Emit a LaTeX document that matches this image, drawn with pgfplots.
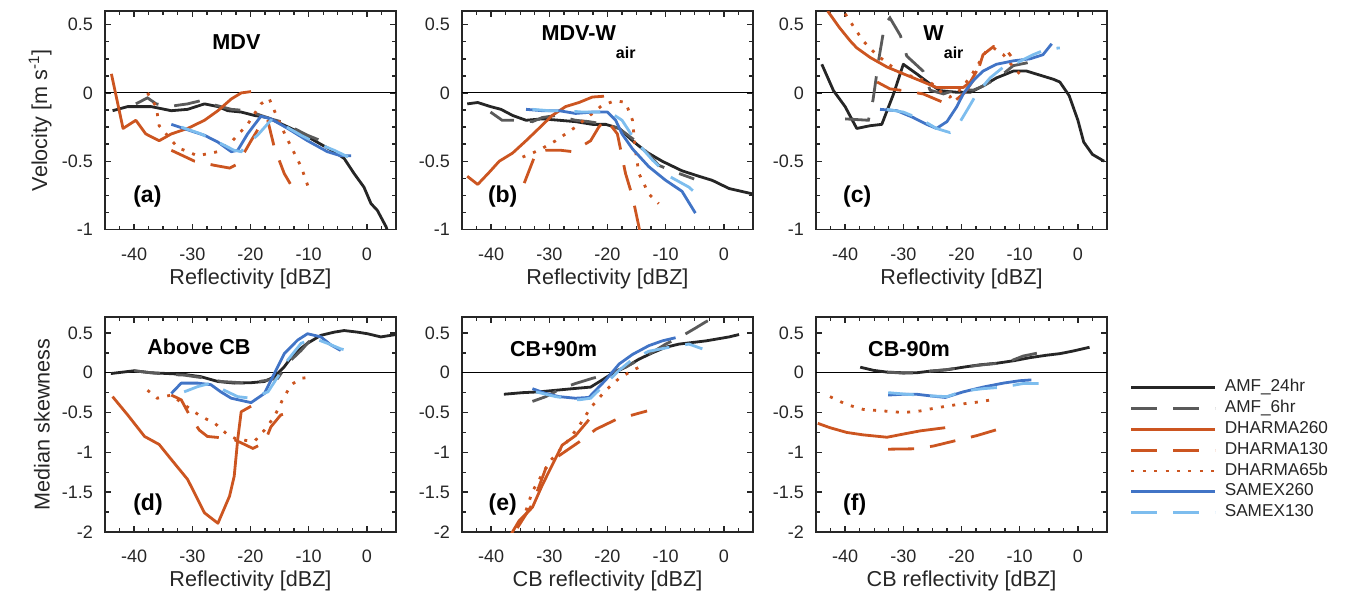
\documentclass[border=0pt]{standalone}
\usepackage{fontspec}
\setmainfont{Liberation Sans}
\usepackage{pgfplots}
\pgfplotsset{compat=1.18}

\definecolor{axcol}{HTML}{262626}
\definecolor{amfgray}{HTML}{5A5A5A}
\definecolor{dharma}{HTML}{CC5520}
\definecolor{samex}{HTML}{4174C6}
\definecolor{samexl}{HTML}{7DBDEE}

\newcommand{\air}{\raisebox{-9pt}{\fontsize{8}{8}\selectfont air}}

\tikzset{
  ttl/.style={font=\bfseries\fontsize{10.8}{12}\selectfont, text=black, anchor=west, inner sep=0pt},
  plab/.style={font=\bfseries\fontsize{11.5}{12}\selectfont, text=black, anchor=west, inner sep=0pt},
}

\pgfplotsset{
  amf24/.style={axcol, line width=1.4pt, line join=round},
  amf6/.style={amfgray, line width=1.4pt, dash pattern=on 13pt off 8pt},
  dh260/.style={dharma, line width=1.4pt, line join=round},
  dh130/.style={dharma, line width=1.4pt, dash pattern=on 13pt off 8pt},
  dh65/.style={dharma, line width=1.4pt, dash pattern=on 1.5pt off 4.2pt},
  sx260/.style={samex, line width=1.4pt, line join=round},
  sx130/.style={samexl, line width=1.4pt, dash pattern=on 13pt off 8pt},
  zeroline/.style={black, line width=0.5pt, forget plot},
  panel/.style={
    scale only axis, width=145.5pt, anchor=south west,
    xmin=-45, xmax=5, xtick={-40,-30,-20,-10,0},
    minor xtick={-45,-42.5,...,5},
    axis line style={line width=0.9pt, axcol},
    tick style={line width=0.7pt, axcol},
    major tick length=3pt, minor tick length=2pt,
    tick label style={font=\fontsize{9}{10}\selectfont, text=axcol},
    xticklabel style={yshift=-5.5pt},
    yticklabel style={xshift=-2.5pt},
    /pgf/number format/assume math mode=true,
    label style={font=\fontsize{10.8}{12}\selectfont, text=axcol},
    xlabel={Reflectivity [dBZ]},
  },
  toprow/.style={panel, height=109.25pt, ymin=-1, ymax=0.6,
    ytick={-1,-0.5,0,0.5}, minor ytick={-1,-0.875,...,0.6},
    xlabel style={at={(axis description cs:0.5,-0.225)}, anchor=center}},
  botrow/.style={panel, height=107.5pt, ymin=-2, ymax=0.7,
    ytick={-2,-1.5,-1,-0.5,0,0.5}, minor ytick={-2,-1.75,...,0.7},
    xlabel style={at={(axis description cs:0.5,-0.228)}, anchor=center}},
}

\begin{document}
\begin{tikzpicture}
\path[use as bounding box] (0pt,0pt) rectangle (676.5pt,-303pt);

% (a) MDV
\begin{axis}[toprow, at={(52.5pt,-114.75pt)},
  ylabel={Velocity [m s\textsuperscript{-1}]},
  ylabel style={at={(axis description cs:-0.223,0.5)}, anchor=center}]
\addplot[zeroline] coordinates {(-45,0) (5,0)};
\addplot[amf24] coordinates {(-43.7,-0.13)(-41.1,-0.10)(-37.1,-0.10)(-33.6,-0.13)(-30.8,-0.12)(-27.9,-0.08)(-25.6,-0.10)(-23.9,-0.13)(-21.6,-0.14)(-19.3,-0.165)(-17.1,-0.18)(-14.8,-0.225)(-12.5,-0.27)(-10.2,-0.32)(-7.9,-0.376)(-5.6,-0.43)(-3.9,-0.48)(-2.2,-0.59)(-0.5,-0.69)(0.7,-0.81)(1.8,-0.86)(3.3,-0.98)(3.6,-1.02)};
\addplot[amf6] coordinates {(-39.7,-0.08)(-37.7,-0.036)(-36.2,-0.08)(-34,-0.1)(-32.5,-0.09)(-30.8,-0.08)(-28.5,-0.056)(-26,-0.09)(-23.3,-0.12)(-20.5,-0.13)(-18.5,-0.16)(-16.5,-0.19)(-14.8,-0.21)(-12.5,-0.26)(-10.2,-0.31)(-7.3,-0.36)};
\addplot[dh260] coordinates {(-43.9,0.14)(-41.9,-0.26)(-39.7,-0.20)(-38.0,-0.30)(-35.7,-0.35)(-33.6,-0.30)(-30.8,-0.26)(-27.9,-0.20)(-25.6,-0.13)(-23.3,-0.044)(-21.6,0)(-19.9,0.01)};
\addplot[dh130] coordinates {(-33.6,-0.42)(-29.6,-0.50)(-26.2,-0.53)(-23.6,-0.55)(-22.2,-0.52)(-19.9,-0.35)(-18.2,-0.23)(-17.1,-0.19)(-15.9,-0.40)(-14.2,-0.59)(-12.0,-0.75)};
\addplot[dh65] coordinates {(-37.7,0)(-36.2,-0.10)(-35.7,-0.24)(-32.5,-0.40)(-29.1,-0.46)(-25.6,-0.43)(-23.1,-0.35)(-20.5,-0.23)(-18.2,-0.08)(-16.8,-0.04)(-15.9,-0.13)(-13.9,-0.32)(-11.3,-0.54)(-9.9,-0.71)};
\addplot[sx260] coordinates {(-33.6,-0.23)(-30.8,-0.27)(-27.9,-0.31)(-25.6,-0.36)(-23.3,-0.43)(-22.2,-0.42)(-20.5,-0.30)(-18.2,-0.17)(-16.5,-0.19)(-13.6,-0.26)(-10.2,-0.35)(-6.8,-0.43)(-4.5,-0.46)(-2.7,-0.46)};
\addplot[sx130] coordinates {(-31.9,-0.25)(-28.5,-0.30)(-25.6,-0.36)(-22.8,-0.42)(-21.6,-0.43)(-20.5,-0.37)(-18.8,-0.31)(-16.5,-0.20)(-14.8,-0.225)(-11.3,-0.31)(-8.5,-0.37)(-5.6,-0.42)(-2.2,-0.49)};
\node[ttl] at (axis cs:-26.6,0.37) {MDV};
\node[plab] at (axis cs:-40.2,-0.76) {(a)};
\end{axis}

% (b) MDV-Wair
\begin{axis}[toprow, at={(231pt,-114.75pt)}]
\addplot[zeroline] coordinates {(-45,0) (5,0)};
\addplot[amf24] coordinates {(-44.1,-0.08)(-42.3,-0.07)(-40.1,-0.10)(-38.3,-0.12)(-36.3,-0.165)(-34.0,-0.20)(-31.2,-0.19)(-28.3,-0.20)(-25.5,-0.21)(-22.6,-0.23)(-20.3,-0.23)(-18.0,-0.26)(-15.7,-0.35)(-13.4,-0.43)(-10.6,-0.50)(-7.2,-0.57)(-4.3,-0.61)(-2.0,-0.64)(0.9,-0.70)(5,-0.74)};
\addplot[amf6] coordinates {(-40.1,-0.14)(-38.1,-0.20)(-36.3,-0.20)(-32.9,-0.21)(-31.2,-0.18)(-28.9,-0.165)(-25.5,-0.20)(-23.2,-0.21)(-20.3,-0.23)(-18,-0.26)(-14.6,-0.37)(-11.2,-0.53)(-7.7,-0.59)(-5.1,-0.63)};
\addplot[dh260] coordinates {(-44.1,-0.61)(-42.3,-0.67)(-40.3,-0.58)(-38.6,-0.50)(-36.3,-0.44)(-34.0,-0.35)(-31.8,-0.26)(-29.5,-0.165)(-27.2,-0.10)(-24.9,-0.07)(-22.6,-0.03)(-20.6,-0.024)};
\addplot[dh130] coordinates {(-34.3,-0.66)(-32.3,-0.44)(-30.6,-0.42)(-28,-0.42)(-26,-0.43)(-22.9,-0.35)(-21.5,-0.25)(-20.3,-0.19)(-18.3,-0.30)(-16.9,-0.59)(-15.7,-0.76)(-14.6,-0.98)(-14.3,-1.05)};
\addplot[dh65] coordinates {(-34.6,-0.47)(-31.8,-0.42)(-28.9,-0.35)(-25.5,-0.25)(-22.6,-0.15)(-20.9,-0.09)(-18.6,-0.056)(-16.9,-0.07)(-15.7,-0.20)(-15.2,-0.42)(-14.6,-0.59)(-12.9,-0.74)(-11.2,-0.81)};
\addplot[sx260] coordinates {(-34.0,-0.12)(-31.2,-0.13)(-28.3,-0.13)(-25.5,-0.15)(-22.6,-0.14)(-20.0,-0.14)(-18.6,-0.20)(-17.5,-0.30)(-15.7,-0.41)(-12.9,-0.54)(-10.0,-0.64)(-7.2,-0.72)(-4.9,-0.88)};
\addplot[sx130] coordinates {(-32.9,-0.12)(-30.0,-0.13)(-27.2,-0.13)(-24.3,-0.14)(-21.5,-0.14)(-20.0,-0.13)(-17.5,-0.20)(-15.2,-0.35)(-12.3,-0.49)(-9.4,-0.61)(-6.0,-0.69)(-3.7,-0.78)};
\node[ttl] at (axis cs:-31.4,0.37) {MDV-W\air};
\node[plab] at (axis cs:-40.6,-0.76) {(b)};
\end{axis}

% (c) Wair
\begin{axis}[toprow, at={(408pt,-114.75pt)}]
\addplot[zeroline] coordinates {(-45,0) (5,0)};
\addplot[amf24] coordinates {(-44.0,0.21)(-42.0,0.017)(-40.0,-0.10)(-38.0,-0.26)(-35.7,-0.24)(-33.7,-0.23)(-31.7,-0.01)(-30.0,0.21)(-27.7,0.14)(-25.4,0.066)(-23.7,0.017)(-20.8,0.005)(-18.5,0.005)(-16.8,0.04)(-14.0,0.11)(-11.1,0.16)(-8.8,0.16)(-6.5,0.13)(-4.2,0.10)(-3.1,0.08)(-1.5,-0.02)(0,-0.2)(1,-0.36)(2.5,-0.45)(4.5,-0.5)};
\addplot[amf6] coordinates {(-40,-0.19)(-36,-0.2)(-35.2,-0.05)(-34.2,0.25)(-33.2,0.5)(-32.3,0.55)(-30.5,0.42)(-29.4,0.27)(-26.6,0.16)(-25.4,0.02)(-23.1,-0.007)(-20.5,0.03)(-18,0.02)(-16.3,0.05)(-13.4,0.12)(-11.1,0.2)(-7.1,0.235)};
\addplot[dh260] coordinates {(-43,0.6)(-41,0.48)(-39.1,0.38)(-38.0,0.33)(-35.7,0.26)(-32.8,0.19)(-30.0,0.14)(-27.1,0.09)(-24.3,0.04)(-22.0,0.04)(-19.7,0.04)(-18.5,0.08)(-17.4,0.16)};
\addplot[dh130] coordinates {(-34.5,0.08)(-32.3,0.03)(-30,0.017)(-26.6,-0.007)(-23.1,-0.07)(-21.5,-0.07)(-19.5,0.0)(-17.5,0.12)(-16.3,0.28)(-14.5,0.34)(-13.4,0.34)(-12.2,0.31)(-11.5,0.27)};
\addplot[dh65] coordinates {(-40,0.58)(-36.9,0.38)(-34.6,0.28)(-32.8,0.22)(-30.6,0.15)(-27.7,0.11)(-25.4,0.08)(-23.1,-0.007)(-22,-0.03)(-20,0.03)(-18,0.15)(-15.7,0.31)(-14.5,0.33)(-12.8,0.28)(-11.1,0.19)(-10,0.14)};
\addplot[sx260] coordinates {(-34,-0.12)(-31.1,-0.13)(-28.3,-0.18)(-26,-0.23)(-24.3,-0.26)(-22.5,-0.21)(-20.8,-0.10)(-19.7,-0.007)(-18,0.09)(-16.3,0.16)(-14,0.21)(-11.1,0.235)(-8.2,0.25)(-6,0.28)(-4.5,0.36)};
\addplot[sx130] coordinates {(-32.8,-0.12)(-30,-0.14)(-27.1,-0.19)(-24.3,-0.26)(-22,-0.29)(-20.8,-0.25)(-19.1,-0.13)(-17.4,-0.007)(-15.1,0.11)(-12.8,0.19)(-10.5,0.22)(-7.7,0.28)(-5.4,0.32)(-3.1,0.33)};
\node[ttl] at (axis cs:-26.6,0.37) {W\air};
\node[plab] at (axis cs:-40.4,-0.76) {(c)};
\end{axis}

% (d) Above CB
\begin{axis}[botrow, at={(52.5pt,-266pt)},
  ylabel={Median skewness},
  ylabel style={at={(axis description cs:-0.217,0.5)}, anchor=center}]
\addplot[zeroline] coordinates {(-45,0) (5,0)};
\addplot[amf24] coordinates {(-44,-0.01)(-40,0.025)(-37.1,0)(-34.2,-0.01)(-31.4,-0.02)(-28.5,-0.05)(-25.6,-0.11)(-22.8,-0.13)(-19.9,-0.125)(-17.6,-0.11)(-15.9,-0.05)(-14.2,0.075)(-12.5,0.24)(-10.2,0.37)(-7.9,0.47)(-5.6,0.51)(-3.9,0.53)(-1.6,0.51)(0.1,0.49)(2.4,0.45)(5,0.48)};
\addplot[amf6] coordinates {(-40,0.025)(-37.1,0)(-34.2,-0.02)(-31.4,-0.03)(-28.5,-0.06)(-25,-0.11)(-21.6,-0.125)(-19.3,-0.12)(-15.3,-0.07)(-13.6,0.12)(-11.3,0.28)(-9,0.47)(-8.2,0.55)};
\addplot[dh260] coordinates {(-43.7,-0.30)(-41.1,-0.53)(-38.2,-0.80)(-35.7,-0.90)(-33.6,-1.09)(-30.8,-1.34)(-27.9,-1.76)(-25.6,-1.89)(-23.6,-1.55)(-22.8,-1.30)(-22.2,-0.84)(-21.6,-0.49)(-19.9,-0.42)};
\addplot[dh130] coordinates {(-33.6,-0.28)(-31.9,-0.34)(-30.5,-0.53)(-28.8,-0.72)(-27.4,-0.80)(-24.5,-0.82)(-22.8,-0.84)(-21.6,-0.88)(-19.6,-0.95)(-17.6,-0.88)(-16.5,-0.68)(-14.8,-0.53)(-12.8,-0.49)};
\addplot[dh65] coordinates {(-37.7,-0.22)(-36,-0.32)(-33.6,-0.28)(-31.4,-0.40)(-28.5,-0.55)(-26.2,-0.63)(-23.9,-0.78)(-22.2,-0.84)(-19.3,-0.86)(-17.6,-0.72)(-15.9,-0.55)(-14.5,-0.34)(-13.0,-0.15)(-11.3,-0.07)(-10.2,-0.06)};
\addplot[sx260] coordinates {(-33.6,-0.26)(-31.9,-0.13)(-29.1,-0.13)(-26.8,-0.15)(-25.1,-0.24)(-23.3,-0.32)(-19.9,-0.375)(-17.6,-0.26)(-15.9,-0.01)(-14.2,0.24)(-11.9,0.41)(-10.2,0.49)(-7.9,0.45)(-6.2,0.35)(-4.5,0.28)};
\addplot[sx130] coordinates {(-31.4,-0.24)(-29.1,-0.175)(-26.8,-0.13)(-24.5,-0.22)(-22.2,-0.30)(-19.9,-0.32)(-17,-0.24)(-15.3,-0.05)(-13.6,0.16)(-11.3,0.37)(-9,0.43)(-6.8,0.37)(-4.5,0.30)(-2.2,0.26)};
\node[ttl] at (axis cs:-37.8,0.33) {Above CB};
\node[plab] at (axis cs:-40.2,-1.65) {(d)};
\end{axis}

% (e) CB+90m
\begin{axis}[botrow, at={(231pt,-266pt)}, xlabel={CB reflectivity [dBZ]}]
\addplot[zeroline] coordinates {(-45,0) (5,0)};
\addplot[amf24] coordinates {(-37.8,-0.27)(-34.6,-0.25)(-31.8,-0.24)(-28.9,-0.22)(-26,-0.20)(-22.9,-0.18)(-20.9,-0.09)(-19.2,-0.01)(-16.9,0.07)(-14.6,0.17)(-12.3,0.25)(-10,0.32)(-7.7,0.36)(-5.4,0.38)(-3.1,0.40)(0.9,0.45)(2.6,0.48)};
\addplot[amf6] coordinates {(-32.9,-0.36)(-30.6,-0.30)(-28,-0.2)(-25.5,-0.135)(-22.6,-0.07)(-20.5,-0.03)(-16.9,0.07)(-12.9,0.23)(-10,0.36)(-7.7,0.44)(-4.9,0.56)(-3.1,0.64)(-1,0.72)};
\addplot[dh260] coordinates {(-36.5,-2.02)(-35.2,-1.86)(-32.9,-1.69)(-31.2,-1.41)(-29.5,-1.16)(-27.8,-0.91)(-25.5,-0.79)(-23.2,-0.59)};
\addplot[dh130] coordinates {(-35.5,-1.95)(-32.9,-1.65)(-30.6,-1.20)(-28.3,-1.04)(-24.9,-0.87)(-22,-0.71)(-18.6,-0.59)(-15.2,-0.52)(-13.2,-0.48)};
\addplot[dh65] coordinates {(-34,-1.73)(-32.9,-1.49)(-30,-1.12)(-27.2,-0.89)(-24.9,-0.67)(-22.9,-0.44)(-20.3,-0.22)(-18,-0.07)(-15.7,0.03)(-14,0.09)};
\addplot[sx260] coordinates {(-32.9,-0.20)(-30.6,-0.26)(-28.3,-0.30)(-25.5,-0.32)(-23.2,-0.31)(-20.3,-0.09)(-18,0.11)(-15.7,0.23)(-12.9,0.34)(-10.6,0.40)(-8.3,0.44)};
\addplot[sx130] coordinates {(-32.3,-0.24)(-28.9,-0.30)(-24.9,-0.34)(-22.9,-0.32)(-20.3,-0.135)(-18,0.03)(-15.7,0.17)(-12.9,0.27)(-9.4,0.32)(-6,0.36)(-3.7,0.30)};
\node[ttl] at (axis cs:-36.8,0.30) {CB+90m};
\node[plab] at (axis cs:-40.5,-1.65) {(e)};
\end{axis}

% (f) CB-90m, with the legend
\begin{axis}[botrow, at={(408pt,-266pt)}, xlabel={CB reflectivity [dBZ]},
  legend image code/.code={\draw[#1] (0pt,0pt) -- (42pt,0pt);},
  legend cell align=left,
  legend style={draw=none, fill=none, inner sep=0pt, outer sep=0pt,
    at={(axis description cs:1.079,0.712)}, anchor=north west,
    font=\fontsize{8.6}{9}\selectfont, text=axcol,
    row sep=1.6pt, column sep=3.5pt,
    nodes={inner sep=0.5pt, text height=6pt, text depth=1.8pt}}]
\addplot[zeroline] coordinates {(-45,0) (5,0)};
\addplot[amf24] coordinates {(-37.4,0.07)(-35.1,0.03)(-32.8,0.008)(-30,0)(-27.7,0)(-25.4,0.02)(-22.5,0.037)(-19.7,0.07)(-16.8,0.10)(-13.9,0.12)(-11.1,0.15)(-8.2,0.19)(-5.4,0.22)(-3.1,0.24)(-1,0.27)(2,0.32)};
\addlegendentry{AMF\_24hr}
\addplot[amf6] coordinates {(-32.8,0.008)(-30,-0.005)(-27.7,0)(-25.4,0.02)(-22.5,0.04)(-19.7,0.07)(-16.3,0.1)(-12.2,0.13)(-9.4,0.21)(-5.4,0.27)};
\addlegendentry{AMF\_6hr}
\addplot[dh260] coordinates {(-44.7,-0.635)(-42.6,-0.69)(-39.7,-0.75)(-36.9,-0.78)(-32.8,-0.81)(-30,-0.77)(-27.1,-0.73)(-22.8,-0.69)};
\addlegendentry{DHARMA260}
\addplot[dh130] coordinates {(-32.6,-0.96)(-28,-0.955)(-24.8,-0.92)(-22,-0.87)(-17.4,-0.79)(-12.8,-0.69)};
\addlegendentry{DHARMA130}
\addplot[dh65] coordinates {(-42.6,-0.30)(-39.7,-0.40)(-36.9,-0.46)(-33.4,-0.48)(-30,-0.50)(-27.1,-0.48)(-24.3,-0.44)(-20.8,-0.40)(-17.4,-0.37)(-14,-0.33)};
\addlegendentry{DHARMA65b}
\addplot[sx260] coordinates {(-32.6,-0.28)(-30,-0.27)(-27.7,-0.27)(-25.4,-0.29)(-22.8,-0.31)(-19.7,-0.24)(-16.3,-0.18)(-12.8,-0.13)(-10,-0.10)(-8,-0.09)};
\addlegendentry{SAMEX260}
\addplot[sx130] coordinates {(-32.6,-0.25)(-29.4,-0.27)(-25.4,-0.29)(-22.5,-0.30)(-19.7,-0.23)(-16.3,-0.20)(-12.8,-0.18)(-9.4,-0.135)(-4.8,-0.135)};
\addlegendentry{SAMEX130}
\node[ttl] at (axis cs:-36.1,0.30) {CB-90m};
\node[plab] at (axis cs:-40.4,-1.65) {(f)};
\end{axis}
\end{tikzpicture}
\end{document}
